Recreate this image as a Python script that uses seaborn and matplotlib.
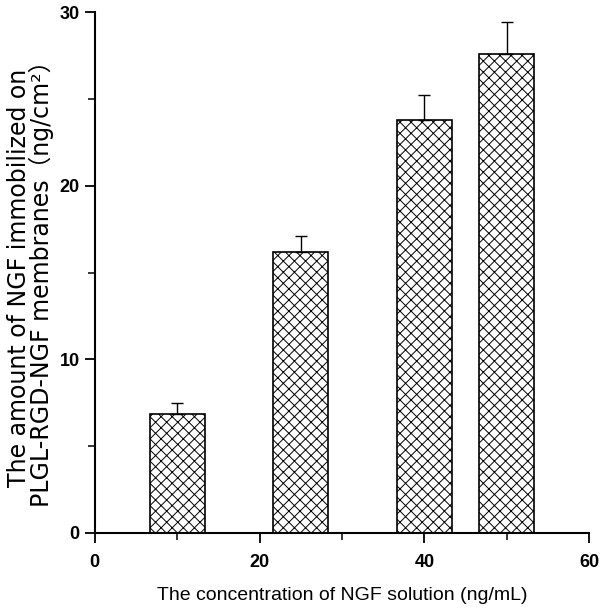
import numpy as np
import pandas as pd
import seaborn as sns
import matplotlib.pyplot as plt
from matplotlib.ticker import MultipleLocator

# values
conc = [10, 25, 40, 50]            # ng/mL
amount = [6.86, 16.2, 23.8, 27.6]  # ng/cm2
err = [0.6, 0.9, 1.45, 1.85]

df = pd.DataFrame({"conc": conc, "amount": amount})

sns.set_theme(style="ticks")
plt.rcParams["hatch.linewidth"] = 0.7
plt.rcParams["hatch.color"] = "#333333"

tick_font = ["Liberation Sans"]
label_font = ["DejaVu Sans", "Noto Sans CJK SC"]

fig = plt.figure(figsize=(6, 6.14), dpi=100)
ax = fig.add_axes([0.158, 0.132, 0.824, 0.848])

sns.barplot(
    data=df, x="conc", y="amount", native_scale=True, width=0.67,
    color="white", edgecolor="black", linewidth=1.2, hatch="xxx",
    errorbar=None, ax=ax,
)
ax.errorbar(conc, amount, yerr=[np.zeros(len(err)), err], fmt="none",
            ecolor="black", elinewidth=1.0, capsize=4, capthick=1.0, zorder=3)

ax.set_xlim(0, 60)
ax.set_ylim(0, 30)
ax.xaxis.set_major_locator(MultipleLocator(20))
ax.xaxis.set_minor_locator(MultipleLocator(10))
ax.yaxis.set_major_locator(MultipleLocator(10))
ax.yaxis.set_minor_locator(MultipleLocator(5))
ax.tick_params(which="major", direction="out", length=7, width=1.3, colors="black")
ax.tick_params(which="minor", direction="out", length=5, width=1.1, colors="black")
ax.tick_params(axis="x", pad=8)
ax.tick_params(axis="y", pad=4)
for lab in ax.get_xticklabels() + ax.get_yticklabels():
    lab.set_family(tick_font)
    lab.set_fontweight("bold")
    lab.set_fontsize(13)

sns.despine(ax=ax)
for s in ["left", "bottom"]:
    ax.spines[s].set_linewidth(1.5)
    ax.spines[s].set_color("black")

ax.set_xlabel("The concentration of NGF solution (ng/mL)", family=["Liberation Sans"],
              fontsize=14, labelpad=12, color="black")
ax.set_ylabel("The amount of NGF immobilized on\nPLGL-RGD-NGF membranes（ng/cm²）",
              family=label_font, fontsize=17, color="black", linespacing=0.92)
ax.yaxis.set_label_coords(-0.082, 0.49)

fig.savefig("out.png", dpi=100)
